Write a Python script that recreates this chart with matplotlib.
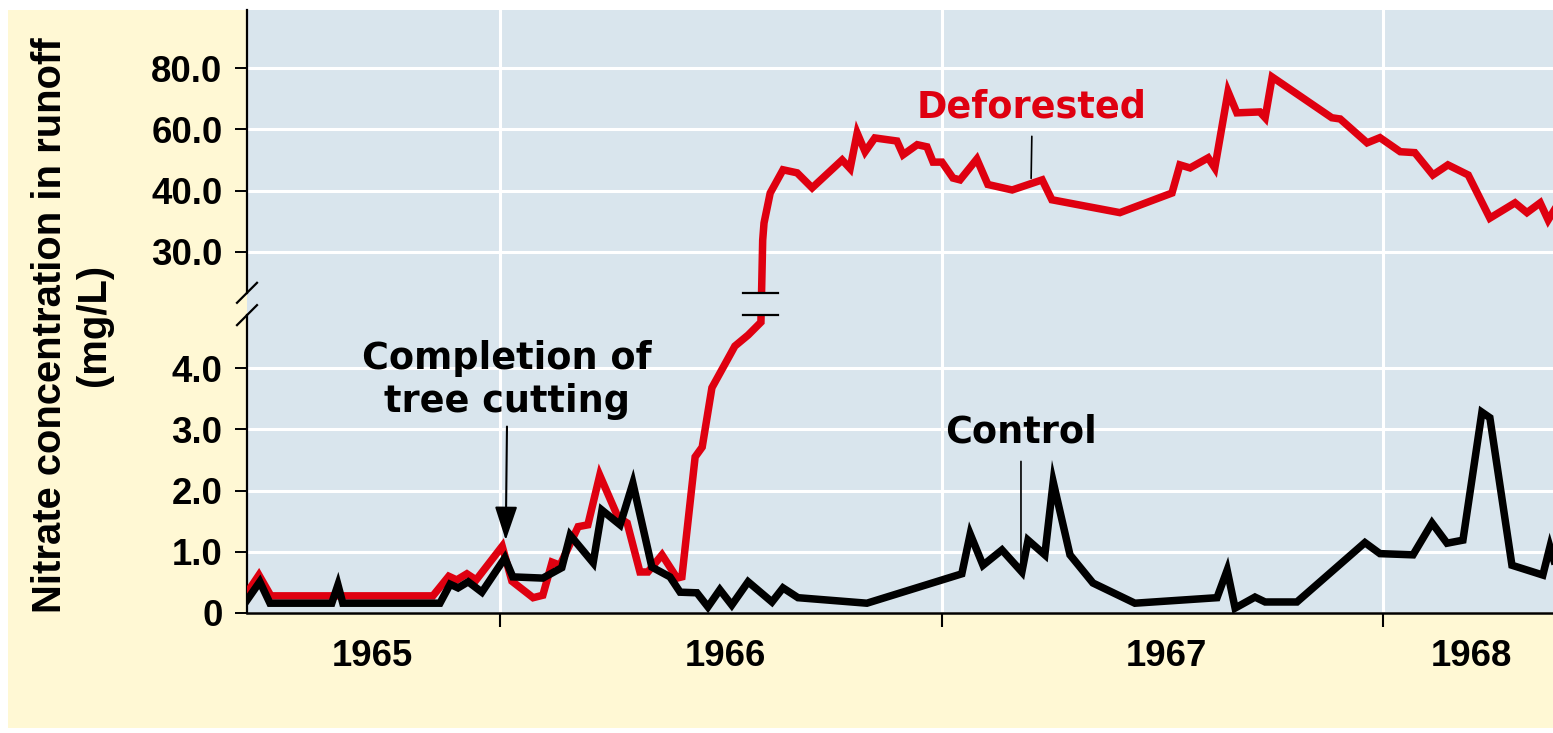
import numpy as np
import matplotlib.pyplot as plt
import matplotlib.transforms as mtransforms
from matplotlib.patches import Rectangle

# nitrate concentration (mg/L)
years_def = [1965.427, 1965.454, 1965.481, 1965.848, 1965.884, 1965.902, 1965.925, 1965.946,
             1966.005, 1966.027, 1966.075, 1966.097, 1966.118, 1966.136, 1966.177, 1966.199,
             1966.226, 1966.267, 1966.288, 1966.317, 1966.335, 1966.367, 1966.401, 1966.412,
             1966.442, 1966.458, 1966.480, 1966.532, 1966.562, 1966.591,
             1966.595, 1966.598, 1966.612, 1966.641, 1966.673, 1966.707, 1966.775, 1966.793,
             1966.809, 1966.827, 1966.849, 1966.899, 1966.913, 1966.945, 1966.967, 1966.981,
             1967.001, 1967.026, 1967.042, 1967.080, 1967.105, 1967.160, 1967.228, 1967.250,
             1967.404, 1967.522, 1967.540, 1967.563, 1967.604, 1967.619, 1967.649, 1967.669,
             1967.721, 1967.733, 1967.749, 1967.884, 1967.903, 1967.964, 1967.993, 1968.039,
             1968.072, 1968.113, 1968.147, 1968.193, 1968.242, 1968.299, 1968.326, 1968.356,
             1968.374, 1968.392]
nitrate_def = [0.33, 0.62, 0.28, 0.28, 0.60, 0.54, 0.64, 0.54,
               1.09, 0.52, 0.25, 0.29, 0.83, 0.78, 1.41, 1.44,
               2.25, 1.57, 1.47, 0.67, 0.67, 0.95, 0.57, 0.59,
               2.55, 2.71, 3.68, 4.36, 4.54, 4.75,
               31.9, 34.7, 39.6, 46.8, 45.8, 40.9, 50.0, 47.2,
               58.8, 52.7, 57.2, 56.2, 51.7, 55.0, 54.3, 49.3,
               49.3, 44.1, 43.5, 50.3, 42.0, 40.2, 43.5, 38.5,
               36.4, 39.6, 48.4, 47.4, 50.7, 47.4, 72.3, 65.4,
               65.7, 63.8, 77.1, 63.8, 63.4, 55.6, 57.3, 52.7,
               52.4, 45.1, 48.4, 45.1, 35.5, 38.0, 36.4, 38.0,
               35.2, 37.3]

years_ctl = [1965.427, 1965.456, 1965.479, 1965.619, 1965.633, 1965.644, 1965.864, 1965.887,
             1965.905, 1965.928, 1965.959, 1966.011, 1966.029, 1966.097, 1966.140, 1966.159,
             1966.211, 1966.231, 1966.272, 1966.301, 1966.344, 1966.385, 1966.408, 1966.446,
             1966.471, 1966.498, 1966.525, 1966.562, 1966.616, 1966.641, 1966.675, 1966.831,
             1967.046, 1967.065, 1967.094, 1967.137, 1967.182, 1967.196, 1967.234, 1967.253,
             1967.291, 1967.343, 1967.438, 1967.624, 1967.647, 1967.665, 1967.710, 1967.733,
             1967.805, 1967.959, 1967.993, 1968.068, 1968.111, 1968.145, 1968.181, 1968.224,
             1968.242, 1968.292, 1968.362, 1968.378, 1968.392]
nitrate_ctl = [0.21, 0.51, 0.16, 0.16, 0.46, 0.16, 0.16, 0.47,
               0.41, 0.51, 0.34, 0.90, 0.59, 0.57, 0.74, 1.27,
               0.82, 1.68, 1.44, 2.12, 0.75, 0.59, 0.34, 0.33,
               0.10, 0.38, 0.13, 0.51, 0.18, 0.41, 0.25, 0.16,
               0.64, 1.29, 0.78, 1.03, 0.67, 1.19, 0.95, 2.14,
               0.95, 0.49, 0.16, 0.25, 0.70, 0.08, 0.26, 0.18,
               0.18, 1.15, 0.97, 0.95, 1.47, 1.14, 1.19, 3.28,
               3.19, 0.78, 0.62, 1.08, 0.74]

ytick_vals = [0, 1, 2, 3, 4, 30, 40, 60, 80]
ytick_labels = ['0', '1.0', '2.0', '3.0', '4.0', '30.0', '40.0', '60.0', '80.0']
year_ticks = [1966, 1967, 1968]
year_labels = ['1965', '1966', '1967', '1968']
year_label_pos = [1965.71, 1966.51, 1967.51, 1968.20]

# broken axis: 0-5 linear, then 30/40/60/80 equally spaced
brk_in = [-10, 0, 5, 30, 40, 80, 200]
brk_out = [-10, 0, 5, 5.9, 6.9, 8.9, 14.9]

def fwd(v):
    return np.interp(v, brk_in, brk_out)

def inv(d):
    return np.interp(d, brk_out, brk_in)

yellow = '#FFF8D4'
blue = '#D9E5ED'
red = '#DF0010'
tick_font = dict(family='Liberation Sans', weight='bold', size=26.4)

fig = plt.figure(figsize=(15.53, 7.33), dpi=100, facecolor='white')
fig.patches.append(Rectangle((8 / 1553, 5 / 733), 1, (733 - 15) / 733,
                             transform=fig.transFigure, facecolor=yellow,
                             edgecolor='none', zorder=-10))
ax = fig.add_axes([247 / 1553, (733 - 613) / 733, (1553 - 247) / 1553, 603 / 733])
ax.set_facecolor(blue)
ax.set_yscale('function', functions=(fwd, inv))

ax.plot(years_def, nitrate_def, color=red, lw=5.4, solid_joinstyle='miter', zorder=3)
ax.plot(years_ctl, nitrate_ctl, color='black', lw=5.4, solid_joinstyle='miter', zorder=3.5)

ax.set_xlim(1965.427, 1968.385)
ax.set_ylim(0, 99)

ax.set_yticks(ytick_vals, ytick_labels)
ax.set_yticks([], minor=True)
ax.set_xticks(year_ticks, ['', '', ''])
ax.set_xticks(year_label_pos, year_labels, minor=True)
ax.tick_params(axis='y', which='major', length=8.6, width=1.4, pad=9)
ax.tick_params(axis='x', which='major', length=10, width=1.5)
ax.tick_params(axis='x', which='minor', length=0, pad=19)
for lab in ax.get_yticklabels() + ax.get_xticklabels(minor=True):
    lab.set(**tick_font)

ax.grid(True, which='major', color='white', lw=2.2)
ax.set_axisbelow(True)

for side in ['top', 'right', 'left']:
    ax.spines[side].set_visible(False)
ax.spines['bottom'].set_linewidth(1.8)

# left spine with break marks
brk_lo, brk_hi = 0.494, 0.531
ax.plot([0, 0], [0, brk_lo], transform=ax.transAxes, color='black', lw=1.6, clip_on=False)
ax.plot([0, 0], [brk_hi, 1], transform=ax.transAxes, color='black', lw=1.6, clip_on=False)
dx, dy = 10 / 1306, 10 / 603
for yb in [brk_lo, brk_hi]:
    ax.plot([-dx, dx], [yb - dy, yb + dy], transform=ax.transAxes, color='black',
            lw=1.6, clip_on=False)

# break marks on the deforested curve
trans = mtransforms.blended_transform_factory(ax.transData, ax.transAxes)
ax.add_patch(Rectangle((1966.565, brk_lo), 0.05, brk_hi - brk_lo, transform=trans,
                       facecolor=blue, edgecolor='none', zorder=4))
for yb in [brk_lo, brk_hi]:
    ax.plot([1966.550, 1966.630], [yb, yb], transform=trans, color='black', lw=1.6, zorder=5)

ann_font = dict(family='DejaVu Sans', weight='bold', size=26.4)
ax.annotate('Deforested', xy=(1967.203, 44.0), xytext=(1967.205, 67.4),
            ha='center', va='center', color=red, **ann_font,
            arrowprops=dict(arrowstyle='-', lw=1.2, color='black', relpos=(0.5, 0),
                            shrinkA=6, shrinkB=0))
ax.annotate('Control', xy=(1967.18, 0.65), xytext=(1967.18, 2.96),
            ha='center', va='center', color='black', **ann_font,
            arrowprops=dict(arrowstyle='-', lw=1.2, color='black', relpos=(0.5, 0),
                            shrinkA=6, shrinkB=0))
ax.annotate('Completion of\ntree cutting', xy=(1966.013, 1.19), xytext=(1966.016, 3.81),
            ha='center', va='center', color='black', **ann_font,
            arrowprops=dict(arrowstyle='-|>,head_length=21,head_width=7', mutation_scale=1,
                            lw=1.5, color='black', relpos=(0.5, 0), shrinkA=3, shrinkB=0))

fig.text(72 / 1553, 1 - 325 / 733, 'Nitrate concentration in runoff\n(mg/L)',
         rotation=90, ha='center', va='center', multialignment='center',
         family='Liberation Sans', weight='bold', size=28.8)

fig.savefig('out.png', dpi=100)
